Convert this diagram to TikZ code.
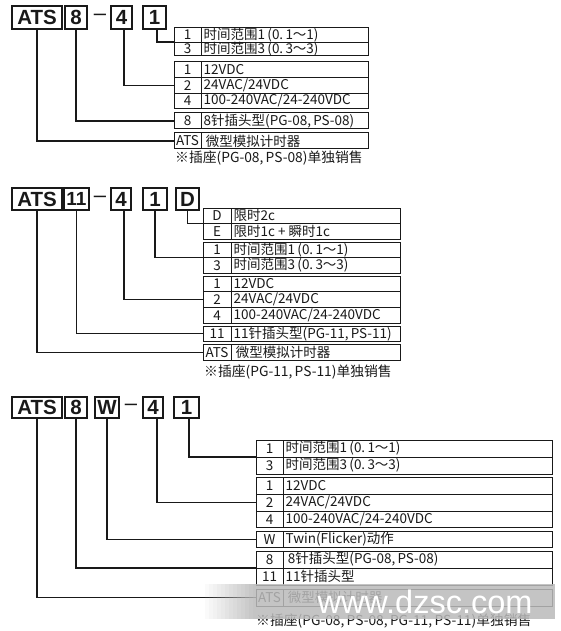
\documentclass[tikz,border=0pt]{standalone}
\usepackage{fontspec}
\setmainfont{Noto Sans CJK SC}
\newfontfamily\hvfont{Liberation Sans}
\definecolor{ink}{RGB}{25,25,25}
\definecolor{wmgray}{RGB}{186,186,186}
\tikzset{
  topbox/.style={draw=ink, line width=1.3pt, inner sep=0pt, outer sep=0pt, text=ink,
    font=\hvfont\bfseries\fontsize{20.5}{20.5}\selectfont},
  grp/.style={draw=ink, line width=1pt, inner sep=0pt, outer sep=0pt},
  tline/.style={draw=ink, line width=0.9pt},
  leader/.style={draw=ink, line width=1.2pt},
  codetxt/.style={inner sep=0pt, text=ink, font=\fontsize{13.5}{13.5}\selectfont},
  rowtxt/.style={inner sep=0pt, anchor=west, text=ink, font=\fontsize{13.5}{13.5}\selectfont},
  notetxt/.style={inner sep=0pt, anchor=west, text=ink, font=\fontsize{13.8}{13.8}\selectfont},
  dashtxt/.style={inner sep=0pt, text=ink, font=\hvfont\fontsize{22}{22}\selectfont},
}
% #1 name, #2 x1, #3 x2, #4 y1, #5 y2, #6 text
\newcommand\tbox[6]{%
  \node[topbox, minimum width={#3-#2}, minimum height={#5-#4}] (#1) at ({(#2+#3)/2},{(#4+#5)/2}) {#6};}
% #1 name #2 xl #3 xd #4 xr #5 ytop #6 rh #7 nrows #8 list
\newcommand\tgroup[8]{%
  \node[grp, minimum width={#4-#2}, minimum height={#6*#7}] (#1) at ({(#2+#4)/2},{#5+#6*#7/2}) {};
  \draw[tline] (#3,#5) -- (#3,{#5+#6*#7});
  \foreach \cc/\tx [count=\k] in {#8} {
    \node[codetxt] (#1-c\k) at ({(#2+#3)/2},{#5+#6*(\k-0.5)}) {\cc};
    \node[rowtxt] (#1-t\k) at ({#3+2.5},{#5+#6*(\k-0.5)}) {\tx};
    \ifnum\k>1 \draw[tline] (#2,{#5+#6*(\k-1)}) -- (#4,{#5+#6*(\k-1)});\fi
  }}
\newcommand\rangeA{时间范围1\,(0.\,1～1)}
\newcommand\rangeB{时间范围3\,(0.\,3～3)}
\begin{document}
\begin{tikzpicture}[x=1pt,y=-1pt]
\useasboundingbox[fill=white] (0,0) rectangle (561,631);

% ---------------- Diagram 1 ----------------
\tbox{a1}{12}{62}{6}{29}{ATS}
\tbox{e1}{65}{87}{6}{29}{8}
\node[dashtxt] (d1) at (100,17.5) {–};
\tbox{f1}{111}{132}{6}{29}{4}
\tbox{o1}{143}{166}{6}{29}{1}

\tgroup{g1A}{174}{201}{368}{28}{14}{2}{1/{\rangeA},3/{\rangeB}}
\tgroup{g1B}{174}{201}{368}{62}{15.5}{3}{1/12VDC,2/{24VAC/24VDC},4/{100-240VAC/24-240VDC}}
\tgroup{g1C}{174}{201}{368}{113}{16}{1}{8/{8针插头型(PG-08,\,PS-08)}}
\tgroup{g1D}{174}{201}{368}{133}{16}{1}{ATS/{\,微型模拟计时器}}
\node[notetxt] (n1) at (175,158) {※插座(PG-08,\,PS-08)单独销售};

\draw[leader] (a1.south) |- (g1D.west);
\draw[leader] (e1.south) |- (g1C.west);
\draw[leader] ([xshift=2.5pt]f1.south) |- (g1B.west);
\draw[leader] ([xshift=2.5pt]o1.south) |- (g1A.west);

% ---------------- Diagram 2 ----------------
\tbox{a2}{12}{62}{188}{210}{ATS}
\tbox{e2}{64}{89}{188}{210}{\fontsize{19}{19}\selectfont 11}
\node[dashtxt] (d2) at (100,199) {–};
\tbox{f2}{111}{131}{188}{210}{4}
\tbox{o2}{143}{167}{188}{210}{1}
\tbox{p2}{176}{199}{188}{210}{D}

\tgroup{g2A}{203}{231}{400}{208}{15.5}{2}{D/限时2c,E/{限时1c + 瞬时1c}}
\tgroup{g2B}{203}{231}{400}{242}{15.5}{2}{1/{\rangeA},3/{\rangeB}}
\tgroup{g2C}{203}{231}{400}{276}{15.7}{3}{1/12VDC,2/{24VAC/24VDC},4/{100-240VAC/24-240VDC}}
\tgroup{g2D}{203}{231}{400}{326}{15.5}{1}{11/{11针插头型(PG-11,\,PS-11)}}
\tgroup{g2E}{203}{231}{400}{344.5}{15.5}{1}{ATS/{\,微型模拟计时器}}
\node[notetxt] (n2) at (204,372) {※插座(PG-11,\,PS-11)单独销售};

\draw[leader] (a2.south) |- (g2E.west);
\draw[leader] (e2.south) |- (g2D.west);
\draw[leader] ([xshift=3pt]f2.south) |- (g2C.west);
\draw[leader] (o2.south) |- (g2B.west);
\draw[leader] (p2.south) |- (g2A.west);

% ---------------- Diagram 3 ----------------
\tbox{a3}{12}{62}{397}{418}{ATS}
\tbox{e3}{65}{87}{397}{418}{8}
\tbox{w3}{95}{119}{397}{418}{W}
\node[dashtxt] (d3) at (131,407.5) {–};
\tbox{f3}{143}{163}{397}{418}{4}
\tbox{o3}{174}{199}{397}{418}{1}

\tgroup{g3A}{256}{283}{552}{440}{17}{2}{1/{\rangeA},3/{\rangeB}}
\tgroup{g3B}{256}{283}{552}{477.5}{16.8}{3}{1/12VDC,2/{24VAC/24VDC},4/{100-240VAC/24-240VDC}}
\tgroup{g3C}{256}{283}{552}{531.5}{16}{1}{W/{Twin(Flicker)动作}}
\tgroup{g3D}{256}{283}{552}{551}{17}{2}{8/{\,8针插头型(PG-08,\,PS-08)},11/{11针插头型}}
\tgroup{g3E}{256}{283}{552}{589}{17}{1}{ATS/{\,微型模拟计时器}}
\node[notetxt] (n3) at (256,621) {※插座(PG-08,\,PS-08,\,PG-11,\,PS-11)单独销售};

\draw[leader] (a3.south) |- (g3E.west);
\draw[leader] (e3.south) |- (g3D.west);
\draw[leader] (w3.south) |- (g3C.west);
\draw[leader] ([xshift=4pt]f3.south) |- (g3B.west);
\draw[leader] ([xshift=2.5pt]o3.south) |- (g3A.west);

% ---------------- watermark ----------------
\foreach \i in {0,...,11} {
  \fill[wmgray, fill opacity={0.8*(\i+1)/12}] ({205+4*\i},584) rectangle ({209+4*\i},619);
}
\fill[wmgray, fill opacity=0.85] (253,584) rectangle (555,619);
\node[inner sep=0pt, anchor=base, text=white, font=\hvfont\fontsize{32.5}{32.5}\selectfont] (wm) at (425,613) {www.dzsc.com};
\end{tikzpicture}
\end{document}
